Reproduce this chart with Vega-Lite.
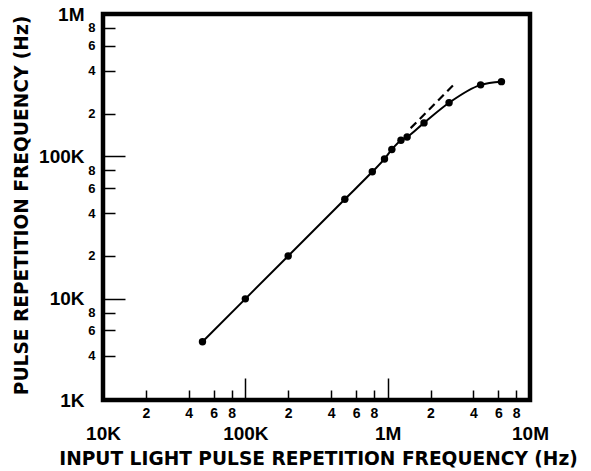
{
  "$schema": "https://vega.github.io/schema/vega-lite/v6.json",
  "width": 427,
  "height": 386,
  "autosize": {"type": "none"},
  "padding": {"left": 103, "top": 14, "right": 61, "bottom": 71},
  "background": "white",
  "config": {
    "view": {"stroke": "black", "strokeWidth": 4.5},
    "axis": {"grid": false, "domain": false, "labelFlush": false, "labelOverlap": false, "labelBound": false, "labelColor": "black", "tickColor": "black", "labelFont": "Liberation Sans", "labelFontWeight": "bold", "titleFont": "DejaVu Sans", "titleFontWeight": "bold", "titleColor": "black"}
  },
  "datasets": {
    "pts": [
      {"input": 50000, "output": 5000},
      {"input": 100000, "output": 10000},
      {"input": 200000, "output": 20000},
      {"input": 500000, "output": 50000},
      {"input": 780000, "output": 78000},
      {"input": 950000, "output": 96000},
      {"input": 1070000, "output": 112000},
      {"input": 1240000, "output": 130000},
      {"input": 1370000, "output": 137000},
      {"input": 1800000, "output": 172000},
      {"input": 2700000, "output": 238000},
      {"input": 4500000, "output": 318000},
      {"input": 6300000, "output": 335000}
    ],
    "dash": [
      {"input": 1450000, "output": 158000},
      {"input": 2950000, "output": 323000}
    ]
  },
  "resolve": {"axis": {"x": "independent", "y": "independent"}},
  "layer": [
    {
      "data": {"name": "pts"},
      "mark": {"type": "line", "color": "black", "strokeWidth": 2, "interpolate": "monotone"},
      "encoding": {
        "x": {"field": "input", "type": "quantitative",
          "scale": {"type": "log", "domain": [10000, 10000000], "nice": false},
          "axis": {"orient": "bottom", "title": null,
            "values": [20000, 40000, 60000, 80000, 200000, 400000, 600000, 800000, 2000000, 4000000, 6000000, 8000000],
            "labelExpr": "'' + round(datum.value / pow(10, floor(log(datum.value) / LN10 + 1e-9)))",
            "tickSize": -10, "tickWidth": 1.5, "labelPadding": 16, "labelFontSize": 14, "labelBaseline": "top"}},
        "y": {"field": "output", "type": "quantitative",
          "scale": {"type": "log", "domain": [1950, 1000000], "nice": false},
          "axis": {"orient": "left", "title": null,
            "values": [4000, 6000, 8000, 20000, 40000, 60000, 80000, 200000, 400000, 600000, 800000],
            "labelExpr": "'' + round(datum.value / pow(10, floor(log(datum.value) / LN10 + 1e-9)))",
            "tickSize": -12, "tickWidth": 1.5, "labelPadding": 20, "labelFontSize": 13, "labelBaseline": "middle"}}
      }
    },
    {
      "data": {"name": "pts"},
      "mark": {"type": "point", "filled": true, "color": "black", "size": 55, "opacity": 1},
      "encoding": {
        "x": {"field": "input", "type": "quantitative",
          "scale": {"type": "log", "domain": [10000, 10000000], "nice": false},
          "axis": {"orient": "bottom", "title": "INPUT LIGHT PULSE REPETITION FREQUENCY (Hz)",
            "values": [10000, 100000, 1000000, 10000000],
            "labelExpr": "datum.value < 50000 ? '10K' : datum.value < 500000 ? '100K' : datum.value < 5000000 ? '1M' : '10M'",
            "tickSize": -22, "tickWidth": 1.5, "labelPadding": 46, "labelFontSize": 19, "labelBaseline": "top",
            "titleFontSize": 18.6, "titleX": 215, "titleY": 58, "titleBaseline": "middle", "titleAlign": "center"}},
        "y": {"field": "output", "type": "quantitative",
          "scale": {"type": "log", "domain": [1950, 1000000], "nice": false},
          "axis": {"orient": "left", "title": "PULSE REPETITION FREQUENCY (Hz)",
            "values": [1950, 10000, 100000, 1000000],
            "labelExpr": "datum.value < 5000 ? '1K' : datum.value < 50000 ? '10K' : datum.value < 500000 ? '100K' : '1M'",
            "tickSize": -22, "tickWidth": 1.5, "labelPadding": 41, "labelFontSize": 19, "labelBaseline": "middle",
            "titleFontSize": 18.6, "titleX": -82, "titleY": 191, "titleBaseline": "middle", "titleAlign": "center", "titleAngle": -90}}
      }
    },
    {
      "data": {"name": "dash"},
      "mark": {"type": "line", "color": "black", "strokeWidth": 2.2, "strokeDash": [8, 5]},
      "encoding": {
        "x": {"field": "input", "type": "quantitative", "scale": {"type": "log", "domain": [10000, 10000000], "nice": false}, "axis": null},
        "y": {"field": "output", "type": "quantitative", "scale": {"type": "log", "domain": [1950, 1000000], "nice": false}, "axis": null}
      }
    }
  ]
}
